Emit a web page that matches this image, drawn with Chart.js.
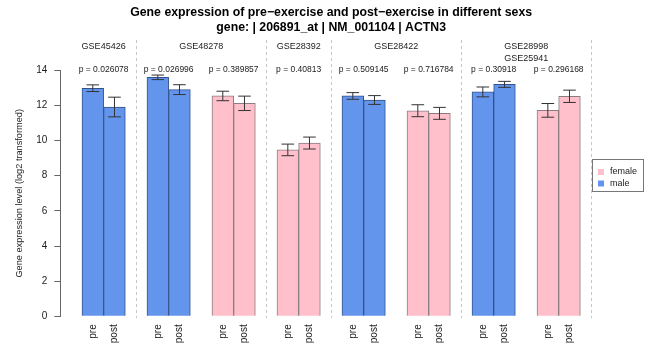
<!DOCTYPE html>
<html>
<head>
<meta charset="utf-8">
<script src="https://cdn.jsdelivr.net/npm/chart.js@4.4.0/dist/chart.umd.min.js"></script>
<style>
  html, body { margin: 0; padding: 0; background: #ffffff; }
  #c { display: block; }
</style>
</head>
<body>
<canvas id="c" width="650" height="345"></canvas>
<script>
// ---- data ----
const titleLines = ['Gene expression of pre\u2212exercise and post\u2212exercise in different sexs',
                    'gene: | 206891_at | NM_001104 | ACTN3'];
const yAxisTitle = 'Gene expression level (log2 transformed)';
const groupNames = [['GSE45426'], ['GSE48278'], ['GSE28392'], ['GSE28422'], ['GSE28998', 'GSE25941']];
const groupPairs = [1, 2, 1, 2, 2];
const timeLabels = ['pre', 'post'];
const pairSex = ['male', 'male', 'female', 'female', 'male', 'female', 'male', 'female'];
const preMean  = [12.98, 13.60, 12.54, 9.47, 12.54, 11.70, 12.77, 11.72];
const postMean = [11.91, 12.90, 12.12, 9.86, 12.31, 11.55, 13.20, 12.52];
const preErr   = [0.19, 0.13, 0.27, 0.33, 0.19, 0.34, 0.28, 0.39];
const postErr  = [0.56, 0.28, 0.41, 0.34, 0.25, 0.34, 0.17, 0.35];
const pValues  = ['0.026078', '0.026996', '0.389857', '0.40813', '0.509145', '0.716784', '0.30918', '0.296168'];
const sexNames = ['female', 'male'];
const yMin = 0, yMax = 14, yStep = 2;

// ---- styles ----
const FONT = '"Liberation Sans", Arial, Helvetica, sans-serif';
const fillColor = { female: '#FFC0CB', male: '#6495ED' };
const edgeColor = { female: '#8c7c80', male: '#34528a' };

// ---- build slots: leading gap, then (pre, post, gap) per pair ----
const labels = [''];
const values = [null];
const errs = [null];
const fills = ['rgba(0,0,0,0)'];
const edges = ['rgba(0,0,0,0)'];
const pairIndex = [];
pairSex.forEach((sex, k) => {
  pairIndex.push(labels.length);
  labels.push(timeLabels[0], timeLabels[1], '');
  values.push(preMean[k], postMean[k], null);
  errs.push(preErr[k], postErr[k], null);
  fills.push(fillColor[sex], fillColor[sex], 'rgba(0,0,0,0)');
  edges.push(edgeColor[sex], edgeColor[sex], 'rgba(0,0,0,0)');
});

const decor = {
  id: 'decor',
  beforeDatasetsDraw(chart) {
    const ctx = chart.ctx, xs = chart.scales.x;
    ctx.save();
    ctx.strokeStyle = '#c4c4c4';
    ctx.lineWidth = 1;
    ctx.setLineDash([3, 3]);
    let p = 0;
    groupPairs.forEach(n => {
      p += n;
      const gapIdx = pairIndex[p - 1] + 2;
      const x = Math.round(xs.getPixelForValue(gapIdx)) + 0.5;
      ctx.beginPath();
      ctx.moveTo(x, 40);
      ctx.lineTo(x, 318);
      ctx.stroke();
    });
    ctx.restore();
  },
  afterDatasetsDraw(chart) {
    const ctx = chart.ctx, ys = chart.scales.y;
    const meta = chart.getDatasetMeta(0);
    ctx.save();
    ctx.strokeStyle = '#333333';
    ctx.lineWidth = 1;
    values.forEach((v, i) => {
      if (v === null) return;
      const x = meta.data[i].x;
      const yt = ys.getPixelForValue(v + errs[i]);
      const yb = ys.getPixelForValue(v - errs[i]);
      const hw = 6.3;
      ctx.beginPath();
      ctx.moveTo(x, yt); ctx.lineTo(x, yb);
      ctx.moveTo(x - hw, yt); ctx.lineTo(x + hw, yt);
      ctx.moveTo(x - hw, yb); ctx.lineTo(x + hw, yb);
      ctx.stroke();
    });
    ctx.restore();
  },
  afterDraw(chart) {
    const ctx = chart.ctx, xs = chart.scales.x, area = chart.chartArea;
    ctx.save();
    ctx.fillStyle = '#000';
    ctx.textAlign = 'center';
    ctx.textBaseline = 'middle';
    const cx = (area.left + area.right) / 2;
    ctx.font = 'bold 12.3px ' + FONT;
    ctx.fillText(titleLines[0], cx, 12.5);
    ctx.fillText(titleLines[1], cx, 27.5);

    ctx.fillStyle = '#222';
    ctx.font = '9px ' + FONT;
    let p = 0;
    groupNames.forEach((names, g) => {
      const first = pairIndex[p];
      const last = pairIndex[p + groupPairs[g] - 1] + 1;
      const x = (xs.getPixelForValue(first) + xs.getPixelForValue(last)) / 2;
      names.forEach((nm, j) => ctx.fillText(nm, x, 47 + j * 12));
      p += groupPairs[g];
    });

    ctx.font = '8.5px ' + FONT;
    pValues.forEach((pv, k) => {
      const x = (xs.getPixelForValue(pairIndex[k]) + xs.getPixelForValue(pairIndex[k] + 1)) / 2;
      ctx.fillText('p = ' + pv, x, 70);
    });

    // legend
    ctx.strokeStyle = '#777';
    ctx.lineWidth = 1;
    ctx.strokeRect(592.5, 159.5, 51, 32);
    ctx.textAlign = 'left';
    ctx.font = '9px ' + FONT;
    sexNames.forEach((s, i) => {
      const y = 172 + i * 11.5;
      ctx.fillStyle = fillColor[s];
      ctx.fillRect(598, y - 3, 6, 6);
      ctx.fillStyle = '#222';
      ctx.fillText(s, 610, y);
    });
    ctx.restore();
  }
};

new Chart(document.getElementById('c'), {
  type: 'bar',
  data: {
    labels: labels,
    datasets: [{
      data: values,
      backgroundColor: fills,
      borderColor: edges,
      borderWidth: 1,
      categoryPercentage: 1,
      barPercentage: 1
    }]
  },
  options: {
    responsive: false,
    animation: false,
    devicePixelRatio: 1,
    layout: { padding: { top: 70.3, right: 48, left: 0, bottom: 0 } },
    plugins: { legend: { display: false }, title: { display: false }, tooltip: { enabled: false } },
    scales: {
      x: {
        type: 'category',
        offset: true,
        grid: { display: false },
        border: { display: false },
        ticks: {
          autoSkip: false, maxRotation: 90, minRotation: 90, padding: 0,
          color: '#222', font: { family: FONT, size: 10 }
        },
        afterFit(s) { s.height = 345 - 316.3; }
      },
      y: {
        min: yMin, max: yMax,
        ticks: { stepSize: yStep, padding: 7, color: '#222', font: { family: FONT, size: 10 } },
        grid: { drawOnChartArea: false, drawTicks: true, tickLength: 6, color: '#666' },
        border: { display: true, color: '#666' },
        title: { display: true, text: yAxisTitle, color: '#222', font: { family: FONT, size: 9.2 }, padding: { top: 13.5, bottom: 0 } },
        afterFit(s) { s.width = 60.3; }
      }
    }
  },
  plugins: [decor]
});
</script>
</body>
</html>
